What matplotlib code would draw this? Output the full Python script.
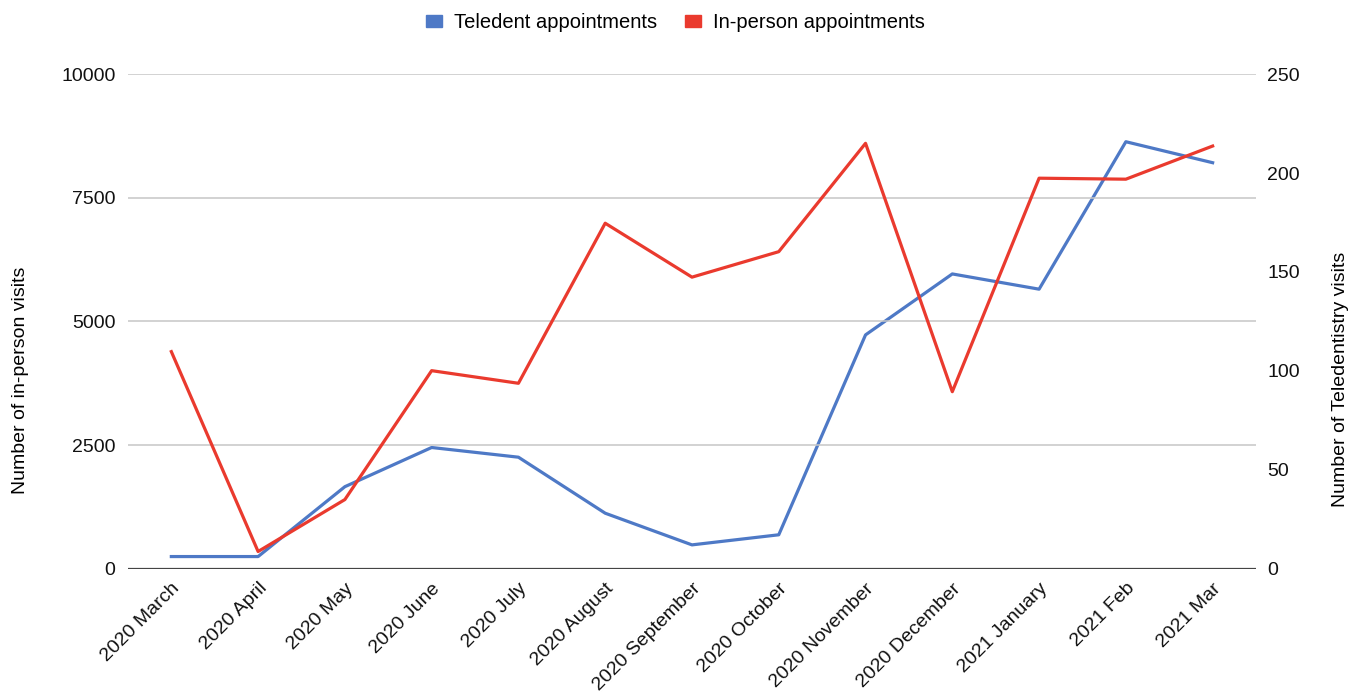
import matplotlib.pyplot as plt
from matplotlib.patches import Patch

# ===========================
#      Data
# ===========================
months = ["2020 March", "2020 April", "2020 May", "2020 June", "2020 July",
          "2020 August", "2020 September", "2020 October", "2020 November",
          "2020 December", "2021 January", "2021 Feb", "2021 Mar"]
in_person = [4390, 350, 1400, 4005, 3750, 6985, 5895, 6410, 8600,
             3580, 7895, 7875, 8545]
teledent = [6.2, 6.2, 41.5, 61.3, 56.4, 28.1, 12.1, 17.2, 118.2,
            149.0, 141.3, 215.8, 205.2]

blue = "#4e79c6"
red = "#ea3a2e"

plt.rcParams['font.family'] = ['Liberation Sans', 'DejaVu Sans']

fig = plt.figure(figsize=(13.51, 6.92), dpi=100)
ax = fig.add_axes([0.0947, 0.178, 0.835, 0.715])
ax2 = ax.twinx()

x = list(range(len(months)))
ax.plot(x, in_person, color=red, lw=2.3, zorder=3)
ax2.plot(x, teledent, color=blue, lw=2.3, zorder=2)
ax.set_zorder(ax2.get_zorder() + 1)
ax.patch.set_visible(False)

ax.set_xlim(-0.5, len(months) - 0.5)
ax.set_ylim(0, 10000)
ax2.set_ylim(0, 250)
ax.set_yticks([0, 2500, 5000, 7500, 10000])
ax2.set_yticks([0, 50, 100, 150, 200, 250])
ax.set_xticks(x)
ax.set_xticklabels(months, rotation=45, ha="right", rotation_mode="anchor")

ax.grid(axis="y", color="#c6c6c6", lw=1.1)
for a in (ax, ax2):
    for s in ["top", "left", "right", "bottom"]:
        a.spines[s].set_visible(False)
    a.tick_params(length=0, labelsize=14, colors="#111111")
ax.axhline(0, color="#444444", lw=1.6, zorder=2)
ax.tick_params(axis="y", pad=9)
ax2.tick_params(axis="y", pad=8)
ax.tick_params(axis="x", pad=8)

# labels sit a bit below the middle of the plot, like the original
ax.set_ylabel("Number of in-person visits", fontsize=14)
ax2.set_ylabel("Number of Teledentistry visits", fontsize=14)
ax.yaxis.set_label_coords(-0.0878, 0.382)
ax2.yaxis.set_label_coords(1.0674, 0.382)

handles = [Patch(color=blue), Patch(color=red)]
fig.legend(handles, ["Teledent appointments", "In-person appointments"],
           loc="center", bbox_to_anchor=(0.5, 0.967), ncol=2, frameon=False,
           fontsize=14.5, handlelength=0.8, handleheight=0.55, handletextpad=0.6,
           columnspacing=1.4)

plt.savefig("out.png", dpi=100)
plt.close()
